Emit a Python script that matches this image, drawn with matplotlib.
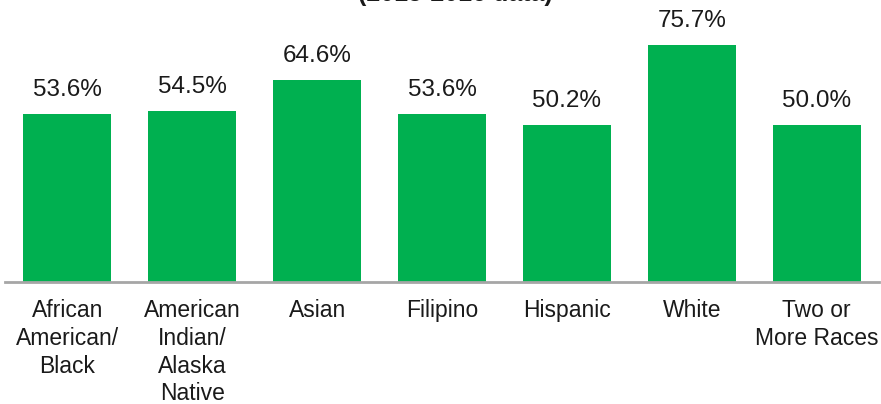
import matplotlib
matplotlib.use("Agg")
import matplotlib.pyplot as plt

categories = ["African\nAmerican/\nBlack", "American\nIndian/\nAlaska\nNative", "Asian",
              "Filipino", "Hispanic", "White", "Two or\nMore Races"]
values = [53.6, 54.5, 64.6, 53.6, 50.2, 75.7, 50.0]
labels = ["53.6%", "54.5%", "64.6%", "53.6%", "50.2%", "75.7%", "50.0%"]
title = "(2015-2016 data)"

plt.rcParams['font.family'] = ['Liberation Sans', 'DejaVu Sans']

W, H = 881, 404
fig = plt.figure(figsize=(W / 100, H / 100), dpi=100)
ax = fig.add_axes([5 / W, 122 / H, 874 / W, 282 / H])

x = list(range(len(categories)))
ax.bar(x, values, width=0.705, color="#00B050", zorder=2)
ax.set_xlim(-0.5, 6.5)
ax.set_ylim(0, 90.07)

for xi, v, lab in zip(x, values, labels):
    ax.annotate(lab, (xi, v), xytext=(0, 13), textcoords="offset points",
                ha="center", va="baseline", fontsize=17.5, color="#1a1a1a")

for s in ["top", "right", "left"]:
    ax.spines[s].set_visible(False)
ax.spines["bottom"].set_color("#A6A6A6")
ax.spines["bottom"].set_linewidth(2)
ax.set_yticks([])
ax.set_xticks(x)
ax.set_xticklabels(categories, fontsize=16.5, linespacing=1.26, color="#1a1a1a")
ax.tick_params(axis="x", length=0, pad=12.5)

fig.text(455 / W, 1 - 1.5 / H, title, ha="center", va="baseline",
         fontsize=18, fontweight="bold", color="#1a1a1a")

fig.savefig("out.png", dpi=100)
